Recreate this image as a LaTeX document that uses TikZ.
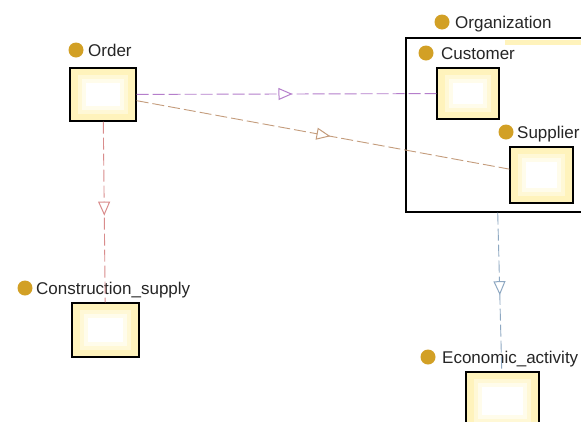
\documentclass[tikz,border=0pt]{standalone}
\usepackage{fontspec}
\setmainfont{Liberation Sans}
\usetikzlibrary{arrows.meta,decorations.markings}
\definecolor{boxyel}{HTML}{FFF3BC}
\definecolor{boxyel2}{HTML}{FFF8D6}
\definecolor{boxyel3}{HTML}{FFFCEB}
\definecolor{dotcol}{HTML}{D2A025}
\definecolor{cpurple}{HTML}{B57ECB}
\definecolor{cbrown}{HTML}{C49C7C}
\definecolor{cred}{HTML}{D98C8C}
\definecolor{cblue}{HTML}{8EA8C2}
\tikzset{
 cls/.style={draw=black, line width=1.3pt, fill=boxyel, inner sep=0pt, path picture={
   \fill[boxyel2] ([shift={(8pt,7pt)}]path picture bounding box.south west) rectangle ([shift={(-8pt,-7pt)}]path picture bounding box.north east);
   \fill[boxyel3] ([shift={(12pt,11pt)}]path picture bounding box.south west) rectangle ([shift={(-12pt,-11pt)}]path picture bounding box.north east);
   \fill[white] ([shift={(16pt,15pt)}]path picture bounding box.south west) rectangle ([shift={(-16pt,-15pt)}]path picture bounding box.north east);}},
 grp/.style={draw=black, line width=1.3pt, fill=white, inner sep=0pt},
 dot/.style={circle, fill=dotcol, minimum size=15pt, inner sep=0pt},
 lbl/.style={anchor=base west, inner sep=0pt, font=\fontsize{17pt}{19pt}\selectfont, text=black!85},
 rel/.style={draw=#1, dash pattern=on 12pt off 4pt, line width=0.9pt, postaction={decorate}, decoration={markings, mark=at position 0.52 with {\arrow{Triangle[fill=white, length=14pt, width=12pt, line width=1pt]}}}},
}
\begin{document}
\begin{tikzpicture}[x=1pt,y=-1pt]
\useasboundingbox (0,0) rectangle (581,421);
\fill[white] (0,0) rectangle (581,421);
% group
\node[grp, minimum width=179pt, minimum height=174pt] (org) at (495.5,125) {};
\fill[boxyel] (505,39.5) rectangle (585,45);
% classes
\node[cls, minimum width=66pt, minimum height=53pt] (order) at (103,94.5) {};
\node[cls, minimum width=62pt, minimum height=51pt] (customer) at (468,93.5) {};
\node[cls, minimum width=63pt, minimum height=56pt] (supplier) at (541.5,175) {};
\node[cls, minimum width=67pt, minimum height=54pt] (cons) at (105.5,330) {};
\node[cls, minimum width=73pt, minimum height=58pt] (econ) at (502.5,401) {};
% labels
\node[dot] (orderdot) at (76,50) {};
\node[lbl] (orderlbl) at (88,56) {Order};
\node[dot] (orgdot) at (442,22) {};
\node[lbl] (orglbl) at (455,28.5) {Organization};
\node[dot] (custdot) at (426,53) {};
\node[lbl] (custlbl) at (441,59) {Customer};
\node[dot] (supdot) at (506,132) {};
\node[lbl] (suplbl) at (517,138) {Supplier};
\node[dot] (consdot) at (25,288) {};
\node[lbl] (conslbl) at (36,294) {Construction\_supply};
\node[dot] (econdot) at (428,357) {};
\node[lbl] (econlbl) at (442,363) {Economic\_activity};
% relations
\draw[rel=cpurple] (order) -- (customer);
\draw[rel=cbrown] (order) -- (supplier);
\draw[rel=cred] (order) -- (cons);
\draw[rel=cblue] (org) -- (econ);
\end{tikzpicture}
\end{document}
